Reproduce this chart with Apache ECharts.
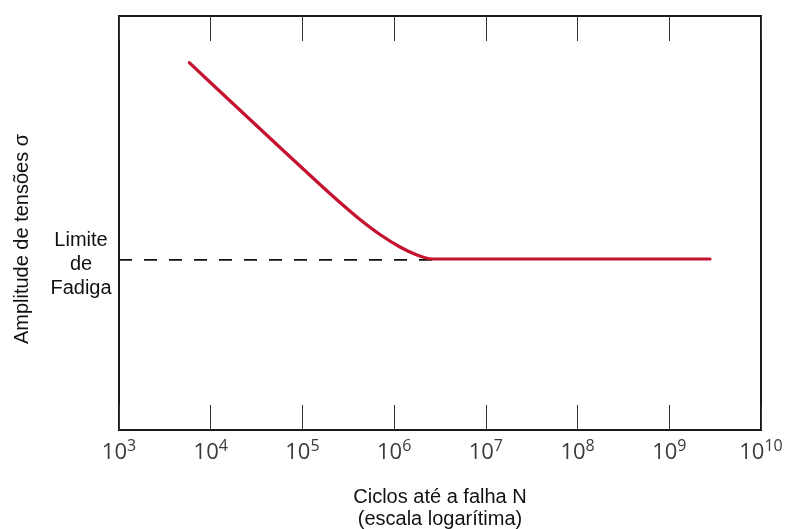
<!DOCTYPE html>
<html>
<head>
<meta charset="utf-8">
<script src="https://cdn.jsdelivr.net/npm/echarts@6/dist/echarts.min.js"></script>
<style>
html,body{margin:0;padding:0;background:#fff;}
#chart{width:785px;height:529px;}
</style>
</head>
<body>
<div id="chart"></div>
<script>
// S-N curve (cycles to failure vs stress amplitude, arbitrary stress units)
const cyclesN = [5842, 12625, 26820, 56950, 94080, 155400, 256800, 424300, 701000, 1158000, 1775000, 2587000, 2780000000];
const stressS = [88.72, 81.76, 75.0, 68.24, 63.77, 59.3, 54.95, 50.85, 47.22, 44.2, 42.27, 41.3, 41.3];
// fatigue limit dashed reference
const limitN = [1000, 2587000];
const limitS = [41.1, 41.1];
const xMin = 1e3, xMax = 1e10;
const yMin = 0, yMax = 100;
const xTitle = 'Ciclos até a falha N\n(escala logarítima)';
const yTitle = 'Amplitude de tensões σ';
const limitLabel = 'Limite\nde\nFadiga';

const chart = echarts.init(document.getElementById('chart'), null, {renderer: 'canvas'});
const curve = cyclesN.map((n, i) => [n, stressS[i]]);
const limit = limitN.map((n, i) => [n, limitS[i]]);

const option = {
  animation: false,
  backgroundColor: '#ffffff',
  grid: {left: 119, top: 16, right: 24, bottom: 99, show: true, borderColor: '#1a1a1a', borderWidth: 2,
         containLabel: false, outerBoundsMode: 'none'},
  xAxis: [{
    type: 'log', logBase: 10, min: xMin, max: xMax, splitNumber: 7,
    axisLine: {show: false},
    axisTick: {show: true, inside: true, length: 25, lineStyle: {color: '#333', width: 1}},
    splitLine: {show: false},
    minorTick: {show: false},
    axisLabel: {
      show: true, margin: 8, showMinLabel: true, showMaxLabel: true,
      formatter: function (v) { return '{b|10}{e|' + Math.round(Math.log10(v)) + '}'; },
      rich: {
        b: {fontFamily: 'Open Sans', fontSize: 22, color: '#3a3a3a', lineHeight: 26, verticalAlign: 'bottom'},
        e: {fontFamily: 'Open Sans', fontSize: 16, color: '#3a3a3a', lineHeight: 14, verticalAlign: 'top'}
      }
    },
    name: xTitle, nameLocation: 'middle', nameGap: 56,
    nameTextStyle: {fontFamily: 'Liberation Sans', fontSize: 20, color: '#111', lineHeight: 22}
  }, {
    type: 'log', logBase: 10, min: xMin, max: xMax, splitNumber: 7, position: 'top',
    axisLine: {show: false},
    axisTick: {show: true, inside: true, length: 25, lineStyle: {color: '#333', width: 1}},
    axisLabel: {show: false}, splitLine: {show: false}
  }],
  yAxis: {
    type: 'value', min: yMin, max: yMax,
    axisLine: {show: false}, axisTick: {show: false}, axisLabel: {show: false}, splitLine: {show: false}
  },
  graphic: [
    {type: 'text', x: 22, y: 239, rotation: Math.PI / 2,
     style: {text: yTitle, fontFamily: 'Liberation Sans', fontSize: 20, fill: '#111', textAlign: 'center', textVerticalAlign: 'middle'}},
    {type: 'text', x: 81, y: 264,
     style: {text: limitLabel, fontFamily: 'Liberation Sans', fontSize: 20, lineHeight: 24, fill: '#111', textAlign: 'center', textVerticalAlign: 'middle'}}
  ],
  series: [
    {type: 'line', data: limit, showSymbol: false, symbol: 'none',
     lineStyle: {color: '#111', width: 1.8, type: [13, 12]}, z: 2},
    {type: 'line', data: curve, showSymbol: false, symbol: 'none', smooth: 0.2,
     lineStyle: {color: '#c4122f', width: 3.2, cap: 'round'}, z: 3}
  ]
};
chart.setOption(option);
</script>
</body>
</html>
